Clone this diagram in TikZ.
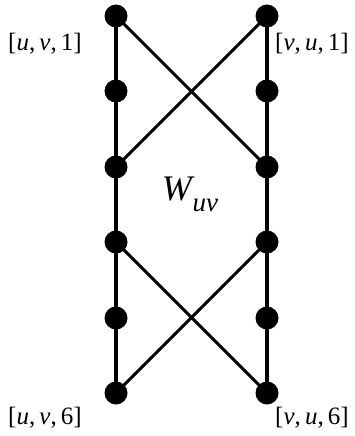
\documentclass[tikz,border=0pt]{standalone}
\usepackage{fontspec}
\setmainfont{Liberation Serif}
\begin{document}
\begin{tikzpicture}[x=1pt,y=-1pt,
  dot/.style={circle,fill=black,inner sep=0pt,minimum size=23pt},
  vline/.style={line width=3.6pt},
  xline/.style={line width=3pt},
  lab/.style={inner sep=0pt,font=\fontsize{25}{28}\selectfont}]
\useasboundingbox (0,0) rectangle (354,436);
\foreach \i/\y in {1/16,2/91,3/167,4/242,5/318,6/393}{
  \coordinate (L\i) at (116,\y);
  \coordinate (R\i) at (267,\y);
}
\draw[vline] (L1) -- (L2) -- (L3) -- (L4) -- (L5) -- (L6);
\draw[vline] (R1) -- (R2) -- (R3) -- (R4) -- (R5) -- (R6);
\draw[xline] (L1) -- (R3);
\draw[xline] (R1) -- (L3);
\draw[xline] (L4) -- (R6);
\draw[xline] (R4) -- (L6);
\foreach \i in {1,...,6}{
  \node[dot] (nL\i) at (L\i) {};
  \node[dot] (nR\i) at (R\i) {};
}
\node[lab] (t1) at (45,44) {[\textit{u},\,\textit{v},\,1]};
\node[lab] (t2) at (312,44) {[\textit{v},\,\textit{u},\,1]};
\node[lab] (t3) at (45,418) {[\textit{u},\,\textit{v},\,6]};
\node[lab] (t4) at (312,418) {[\textit{v},\,\textit{u},\,6]};
\node[inner sep=0pt,font=\fontsize{36}{40}\selectfont] (w) at (190,194) {\textit{W}\kern-0.05em\raisebox{-0.3em}{\fontsize{27}{30}\selectfont\textit{uv}}};
\end{tikzpicture}
\end{document}
